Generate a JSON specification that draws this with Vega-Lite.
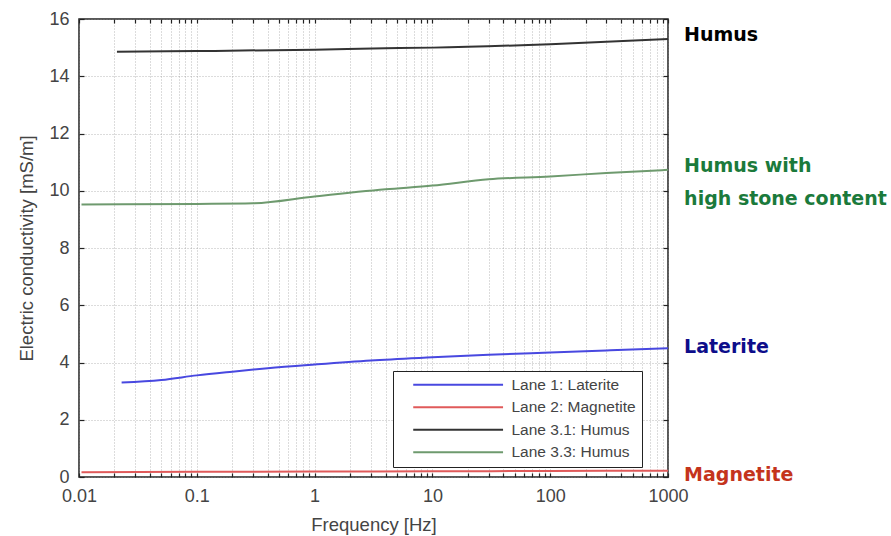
{
  "$schema": "https://vega.github.io/schema/vega-lite/v6.json",
  "width": 589,
  "height": 458,
  "autosize": {"type": "none"},
  "padding": {"left": 79, "top": 19, "right": 223, "bottom": 59},
  "background": "white",
  "config": {
    "view": {"stroke": "#222222", "strokeWidth": 1.5},
    "axis": {
      "labelFont": "Liberation Sans",
      "labelFontSize": 18,
      "labelColor": "#444444",
      "titleFont": "Liberation Sans",
      "titleFontSize": 18.5,
      "titleFontWeight": "normal",
      "titleColor": "#444444",
      "domain": false,
      "tickColor": "#222222",
      "tickWidth": 1.2,
      "gridColor": "#8a8a8a",
      "gridDash": [1, 2],
      "gridOpacity": 0.6,
      "gridWidth": 1
    },
    "legend": {
      "orient": "none",
      "legendX": 314,
      "legendY": 352,
      "padding": 6,
      "strokeColor": "#222222",
      "fillColor": "white",
      "symbolType": "M1.44,0H21.4",
      "symbolSize": 81,
      "symbolStrokeWidth": 2,
      "labelOffset": 97,
      "labelFont": "Liberation Sans",
      "labelFontSize": 15.5,
      "labelColor": "#444444",
      "rowPadding": 5.5
    }
  },
  "datasets": {
    "curves": [
      {"series": "Lane 1: Laterite", "freq": 0.023, "ec": 3.3},
      {"series": "Lane 1: Laterite", "freq": 0.05, "ec": 3.39},
      {"series": "Lane 1: Laterite", "freq": 0.1, "ec": 3.55},
      {"series": "Lane 1: Laterite", "freq": 0.2, "ec": 3.68},
      {"series": "Lane 1: Laterite", "freq": 0.4, "ec": 3.8},
      {"series": "Lane 1: Laterite", "freq": 1, "ec": 3.93},
      {"series": "Lane 1: Laterite", "freq": 3, "ec": 4.07},
      {"series": "Lane 1: Laterite", "freq": 10, "ec": 4.18},
      {"series": "Lane 1: Laterite", "freq": 30, "ec": 4.27},
      {"series": "Lane 1: Laterite", "freq": 100, "ec": 4.35},
      {"series": "Lane 1: Laterite", "freq": 300, "ec": 4.42},
      {"series": "Lane 1: Laterite", "freq": 1000, "ec": 4.5},
      {"series": "Lane 2: Magnetite", "freq": 0.0105, "ec": 0.17},
      {"series": "Lane 2: Magnetite", "freq": 0.1, "ec": 0.18},
      {"series": "Lane 2: Magnetite", "freq": 1, "ec": 0.19},
      {"series": "Lane 2: Magnetite", "freq": 10, "ec": 0.2},
      {"series": "Lane 2: Magnetite", "freq": 100, "ec": 0.21},
      {"series": "Lane 2: Magnetite", "freq": 1000, "ec": 0.22},
      {"series": "Lane 3.1: Humus", "freq": 0.021, "ec": 14.86},
      {"series": "Lane 3.1: Humus", "freq": 0.1, "ec": 14.88},
      {"series": "Lane 3.1: Humus", "freq": 1, "ec": 14.93},
      {"series": "Lane 3.1: Humus", "freq": 4, "ec": 14.98},
      {"series": "Lane 3.1: Humus", "freq": 10, "ec": 15.0},
      {"series": "Lane 3.1: Humus", "freq": 100, "ec": 15.12},
      {"series": "Lane 3.1: Humus", "freq": 1000, "ec": 15.3},
      {"series": "Lane 3.3: Humus", "freq": 0.0105, "ec": 9.52},
      {"series": "Lane 3.3: Humus", "freq": 0.1, "ec": 9.54},
      {"series": "Lane 3.3: Humus", "freq": 0.3, "ec": 9.56},
      {"series": "Lane 3.3: Humus", "freq": 1, "ec": 9.8},
      {"series": "Lane 3.3: Humus", "freq": 4, "ec": 10.05},
      {"series": "Lane 3.3: Humus", "freq": 10, "ec": 10.18},
      {"series": "Lane 3.3: Humus", "freq": 30, "ec": 10.4},
      {"series": "Lane 3.3: Humus", "freq": 100, "ec": 10.5},
      {"series": "Lane 3.3: Humus", "freq": 300, "ec": 10.62},
      {"series": "Lane 3.3: Humus", "freq": 1000, "ec": 10.73}
    ],
    "notes": [
      {"label": "Humus", "kind": "humus", "freq": 1370, "ec": 15.45},
      {"label": "Humus with", "kind": "stone", "freq": 1370, "ec": 10.87},
      {"label": "high stone content", "kind": "stone", "freq": 1370, "ec": 9.72},
      {"label": "Laterite", "kind": "laterite", "freq": 1370, "ec": 4.55},
      {"label": "Magnetite", "kind": "magnetite", "freq": 1370, "ec": 0.07}
    ]
  },
  "encoding": {
    "x": {
      "field": "freq",
      "type": "quantitative",
      "title": "Frequency [Hz]",
      "scale": {"type": "log", "domain": [0.01, 1000], "nice": false},
      "axis": {
        "orient": "bottom",
        "values": [0.01, 0.02, 0.03, 0.04, 0.05, 0.06, 0.07, 0.08, 0.09, 0.1, 0.2, 0.3, 0.4, 0.5, 0.6, 0.7, 0.8, 0.9, 1, 2, 3, 4, 5, 6, 7, 8, 9, 10, 20, 30, 40, 50, 60, 70, 80, 90, 100, 200, 300, 400, 500, 600, 700, 800, 900, 1000],
        "format": "~g",
        "labelExpr": "abs(log(datum.value)/LN10 - round(log(datum.value)/LN10)) < 0.000001 ? datum.label : ''",
        "tickSize": -4,
        "labelPadding": 14,
        "titlePadding": 10,
        "labelFlush": false,
        "labelOverlap": false
      }
    },
    "y": {
      "field": "ec",
      "type": "quantitative",
      "title": "Electric conductivity [mS/m]",
      "scale": {"domain": [0, 16], "nice": false, "zero": false},
      "axis": {
        "orient": "left",
        "values": [0, 2, 4, 6, 8, 10, 12, 14, 16],
        "tickSize": -5,
        "labelPadding": 15,
        "titlePadding": 12,
        "labelFlush": false
      }
    }
  },
  "layer": [
    {
      "data": {"name": "curves"},
      "mark": {"type": "line", "strokeWidth": 2, "interpolate": "monotone"},
      "encoding": {
        "color": {
          "field": "series",
          "type": "nominal",
          "scale": {
            "domain": ["Lane 1: Laterite", "Lane 2: Magnetite", "Lane 3.1: Humus", "Lane 3.3: Humus"],
            "range": ["#4848e0", "#e05a5a", "#333333", "#6e9a6e"]
          },
          "legend": {"title": null}
        }
      }
    },
    {
      "data": {"name": "notes"},
      "mark": {
        "type": "text",
        "align": "left",
        "baseline": "middle",
        "font": "DejaVu Sans",
        "fontWeight": "bold",
        "fontSize": 19,
        "clip": false
      },
      "encoding": {
        "x": {
          "field": "freq",
          "type": "quantitative",
          "scale": {"type": "log", "domain": [0.01, 1000], "nice": false},
          "axis": {
            "orient": "top",
            "values": [0.01, 0.02, 0.03, 0.04, 0.05, 0.06, 0.07, 0.08, 0.09, 0.1, 0.2, 0.3, 0.4, 0.5, 0.6, 0.7, 0.8, 0.9, 1, 2, 3, 4, 5, 6, 7, 8, 9, 10, 20, 30, 40, 50, 60, 70, 80, 90, 100, 200, 300, 400, 500, 600, 700, 800, 900, 1000],
            "labels": false,
            "grid": false,
            "title": null,
            "tickSize": -4
          }
        },
        "y": {
          "field": "ec",
          "type": "quantitative",
          "scale": {"domain": [0, 16], "nice": false, "zero": false},
          "axis": {
            "orient": "right",
            "values": [0, 2, 4, 6, 8, 10, 12, 14, 16],
            "labels": false,
            "grid": false,
            "title": null,
            "tickSize": -5
          }
        },
        "text": {"field": "label"},
        "color": {
          "field": "kind",
          "type": "nominal",
          "scale": {
            "domain": ["humus", "stone", "laterite", "magnetite"],
            "range": ["#000000", "#1b7a3b", "#0d0d8a", "#c4341c"]
          },
          "legend": null
        }
      }
    }
  ],
  "resolve": {
    "scale": {"color": "independent"},
    "axis": {"x": "independent", "y": "independent"}
  }
}
